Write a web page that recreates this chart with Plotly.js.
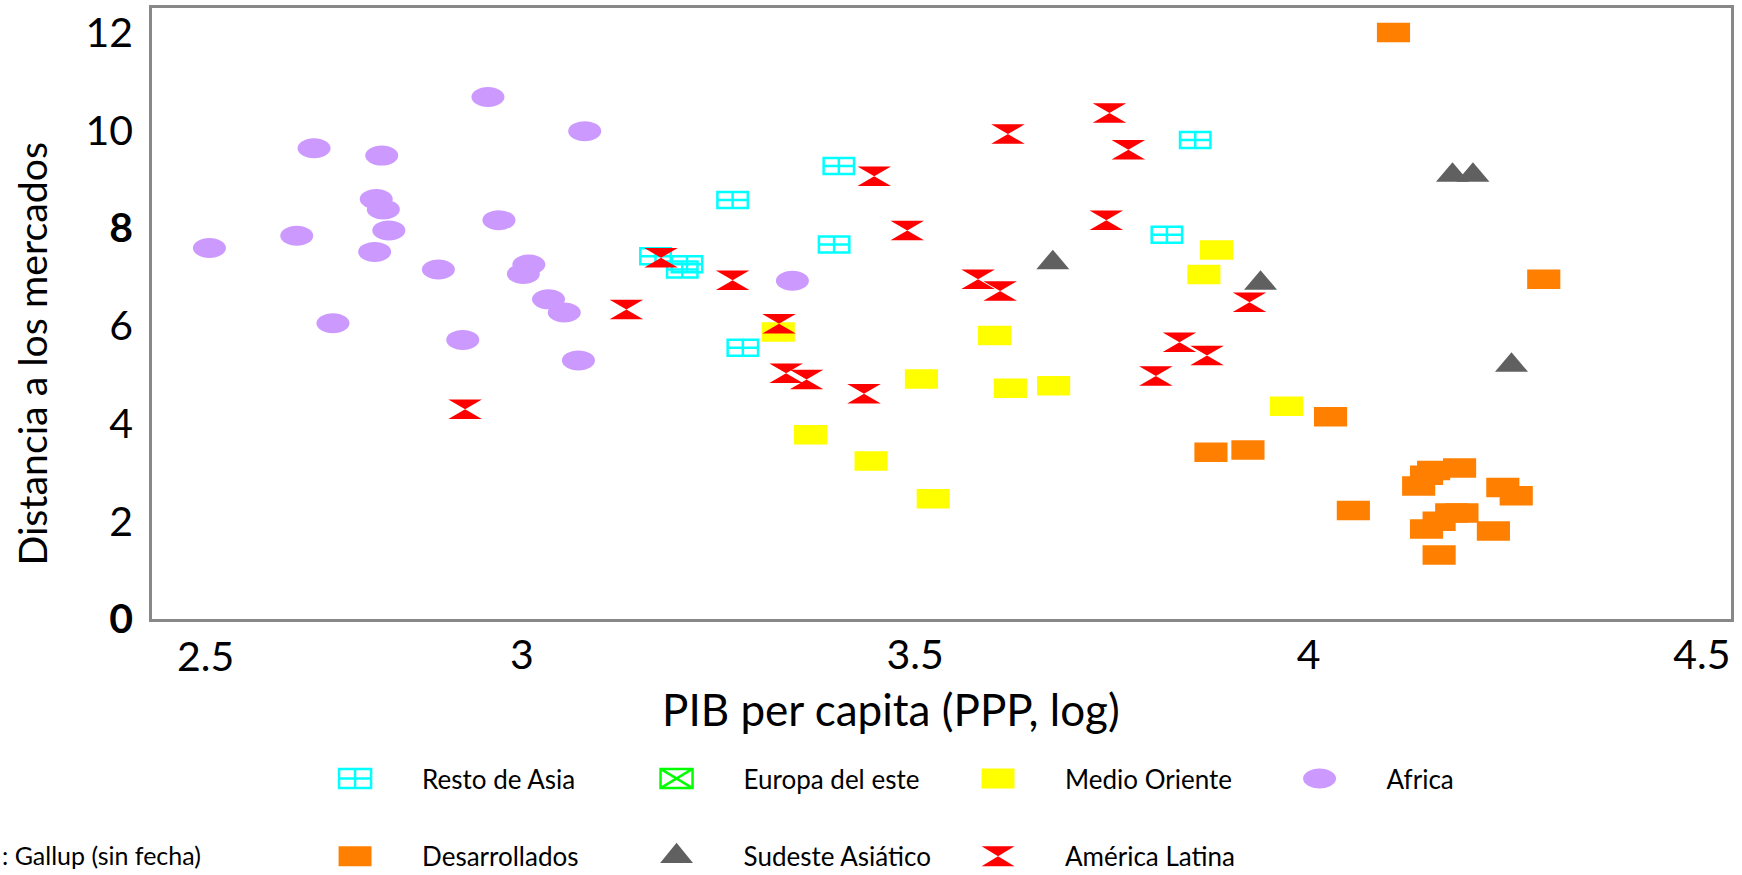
<!DOCTYPE html>
<html>
<head>
<meta charset="utf-8">
<script src="https://cdn.plot.ly/plotly-3.0.1.min.js"></script>
<style>html,body{margin:0;padding:0;background:#fff;}</style>
</head>
<body>
<div id="chart" style="width:1742px;height:875px;"></div>
<script>
// ---- Data ----
const seriesNames = ['Resto de Asia', 'Europa del este', 'Medio Oriente', 'Africa', 'Desarrollados', 'Sudeste Asiático', 'América Latina'];

const restoAsiaX = [3.170, 3.210, 3.204, 3.268, 3.281, 3.403, 3.397, 3.856, 3.820];
const restoAsiaY = [7.42, 7.26, 7.15, 8.57, 5.55, 9.27, 7.66, 9.80, 7.86];

// no visible points for this group in the reference (legend entry only)
const europaEsteX = [null];
const europaEsteY = [null];

const medioOrienteX = [3.326, 3.367, 3.444, 3.523, 3.508, 3.601, 3.621, 3.676, 3.883, 3.867, 3.972];
const medioOrienteY = [5.87, 3.77, 3.23, 2.46, 4.91, 5.80, 4.72, 4.77, 7.55, 7.05, 4.35];

const africaX = [2.603, 2.714, 2.736, 2.822, 2.815, 2.824, 2.831, 2.813, 2.760, 2.957, 2.971, 2.894, 3.009, 3.002, 2.925, 3.034, 3.054, 3.080, 3.072, 3.344];
const africaY = [7.59, 7.84, 9.63, 9.48, 8.59, 8.38, 7.95, 7.51, 6.05, 10.68, 8.16, 7.15, 7.25, 7.06, 5.71, 6.54, 6.27, 9.98, 5.29, 6.92];

const desarrolladosX = [4.108, 4.028, 3.876, 3.923, 4.057, 4.299, 4.140, 4.150, 4.159, 4.192, 4.247, 4.264, 4.150, 4.166, 4.182, 4.195, 4.235, 4.166];
const desarrolladosY = [12.00, 4.14, 3.41, 3.46, 2.22, 6.95, 2.72, 2.94, 3.04, 3.09, 2.69, 2.52, 1.84, 2.00, 2.17, 2.17, 1.80, 1.31];

const sudesteX = [3.675, 3.939, 4.183, 4.209, 4.258];
const sudesteY = [7.29, 6.87, 9.08, 9.08, 5.19];

const latinaX = [2.928, 3.133, 3.177, 3.268, 3.327, 3.336, 3.362, 3.435, 3.448, 3.490, 3.618, 3.747, 3.771, 3.743, 3.580, 3.608, 3.925, 3.836, 3.871, 3.806];
const latinaY = [4.29, 6.33, 7.39, 6.93, 6.04, 5.03, 4.90, 4.61, 9.06, 7.95, 9.92, 10.35, 9.60, 8.16, 6.95, 6.71, 6.48, 5.66, 5.39, 4.97];

const yTickVals = [0, 2, 4, 6, 8, 10, 12];
const yTickText = ['<b>0</b>', '2', '4', '6', '<b>8</b>', '10', '12'];
const xTickVals = [3, 3.5, 4, 4.5];
const xTickText = ['3', '3.5', '4', '4.5'];
const firstXTickLabel = '2.5';
const sourceNote = ': Gallup (sin fecha)';
const xTitle = 'PIB per capita (PPP, log)';
const yTitle = 'Distancia a los mercados';

// ---- Styling ----
const FONT = 'Lato, "Open Sans", sans-serif';
const PAD = function (n) { return '\u00A0'.repeat(n) + '\u200B'; };

function mk(name, x, y, symbol, color, size, extra, legend) {
  const marker = Object.assign({symbol: symbol, color: color, size: size, line: {width: 0}}, extra || {});
  return {type: 'scatter', mode: 'markers', name: name, x: x, y: y, marker: marker,
          legend: legend, hoverinfo: 'x+y+name', cliponaxis: false};
}

const traces = [
  mk(seriesNames[0], restoAsiaX, restoAsiaY, 'square-cross-open', '#00FFFF', 16, {line: {width: 2.5, color: '#00FFFF'}}, 'legend'),
  mk(seriesNames[1], europaEsteX, europaEsteY, 'square-x-open', '#00FF00', 16, {line: {width: 2.5, color: '#00FF00'}}, 'legend'),
  mk(seriesNames[2], medioOrienteX, medioOrienteY, 'square', '#FFFF00', 19.5, null, 'legend'),
  mk(seriesNames[3], africaX, africaY, 'circle', '#CC99FF', 20, null, 'legend'),
  mk(seriesNames[4], desarrolladosX, desarrolladosY, 'square', '#FF8000', 19.5, null, 'legend2'),
  mk(seriesNames[5], sudesteX, sudesteY, 'triangle-up', '#606060', 26, null, 'legend2'),
  mk(seriesNames[6], latinaX, latinaY, 'hourglass', '#FF0000', 19.5, null, 'legend2')
];

// horizontal stretch of the marks (reference markers are wider than tall)
const plotScale = [[1.9, 1], [1.9, 1], [1.7, 1], [1.65, 1], [1.7, 1], [1.1, 1], [1.72, 1]];
const legendScale = [[2.0, 1.2], [2.0, 1.2], [2.06, 1.25], [2.06, 1.25], [2.06, 1.25], [1.78, 1.67], [2.06, 1.25]];
const LEG_TEXT_OFFSET = 67;

const legendCommon = {
  orientation: 'h', xanchor: 'left', yanchor: 'middle',
  bgcolor: 'rgba(0,0,0,0)', borderwidth: 0,
  font: {family: FONT, size: 26, color: '#000'},
  itemwidth: 87, entrywidth: 219.5, entrywidthmode: 'pixels',
  itemclick: false, itemdoubleclick: false
};

const layout = {
  width: 1742, height: 875,
  margin: {l: 152, r: 11, t: 7.5, b: 256, pad: 0, autoexpand: false},
  paper_bgcolor: '#ffffff', plot_bgcolor: '#ffffff',
  font: {family: FONT, color: '#000'},
  showlegend: true,
  legend: Object.assign({x: 0.1096, y: -0.2612}, legendCommon),
  legend2: Object.assign({x: 0.1096, y: -0.3884}, legendCommon),
  xaxis: {
    range: [2.53, 4.537], tickmode: 'array', tickvals: xTickVals, ticktext: xTickText,
    showgrid: false, zeroline: false, ticks: '', ticklabelstandoff: -2,
    showline: true, mirror: true, linecolor: '#888888', linewidth: 2.5,
    tickfont: {family: FONT, size: 41, color: '#000'},
    title: {text: xTitle + PAD(9), font: {family: FONT, size: 44, color: '#000'}, standoff: 19}
  },
  yaxis: {
    range: [0, 12.5], tickmode: 'array', tickvals: yTickVals, ticktext: yTickText,
    showgrid: false, zeroline: false, ticks: '', ticklabelstandoff: 8,
    showline: true, mirror: true, linecolor: '#888888', linewidth: 2.5,
    tickfont: {family: FONT, size: 41, color: '#000'},
    title: {text: yTitle + PAD(8), font: {family: FONT, size: 39.3, color: '#000'}, standoff: 26}
  },
  annotations: [
    {xref: 'paper', yref: 'paper', x: 0.0339, y: -0.0605, xanchor: 'center', yanchor: 'middle',
     text: firstXTickLabel, showarrow: false, font: {family: FONT, size: 41, color: '#000'}},
    {xref: 'paper', yref: 'paper', x: -0.0963, y: -0.386, xanchor: 'left', yanchor: 'middle',
     text: sourceNote, showarrow: false, font: {family: FONT, size: 25, color: '#000'}}
  ]
};

function parseTranslate(t) {
  const m = /translate\(\s*([-\d.eE]+)[ ,]+([-\d.eE]+)\s*\)/.exec(t || '');
  return m ? [parseFloat(m[1]), parseFloat(m[2])] : null;
}

function stretchMarks(gd) {
  gd.querySelectorAll('.scatterlayer .trace').forEach(function (g) {
    const d = g.__data__;
    if (!d || !d[0] || !d[0].trace) return;
    const s = plotScale[d[0].trace.index];
    g.querySelectorAll('path.point').forEach(function (p) {
      const tr = parseTranslate(p.getAttribute('transform'));
      if (!tr) return;
      p.setAttribute('transform', 'translate(' + tr[0] + ',' + tr[1] + ') scale(' + s[0] + ',' + s[1] + ')');
      p.style.vectorEffect = 'non-scaling-stroke';
    });
  });
  gd.querySelectorAll('.legend .traces, .legend2 .traces').forEach(function (g) {
    const d = g.__data__;
    if (!d || !d[0] || !d[0].trace) return;
    const s = legendScale[d[0].trace.index];
    const txt = g.querySelector('text.legendtext');
    const tx = txt ? parseFloat(txt.getAttribute('x')) : 97;
    g.querySelectorAll('path.scatterpts').forEach(function (p) {
      const tr = parseTranslate(p.getAttribute('transform')) || [0, 0];
      p.setAttribute('transform', 'translate(' + (tx - LEG_TEXT_OFFSET) + ',' + tr[1] + ') scale(' + s[0] + ',' + s[1] + ')');
      p.style.vectorEffect = 'non-scaling-stroke';
    });
  });
}

const gd = document.getElementById('chart');
Plotly.newPlot(gd, traces, layout, {displayModeBar: false, responsive: false}).then(function () {
  stretchMarks(gd);
  gd.on('plotly_afterplot', function () { stretchMarks(gd); });
});
</script>
</body>
</html>
